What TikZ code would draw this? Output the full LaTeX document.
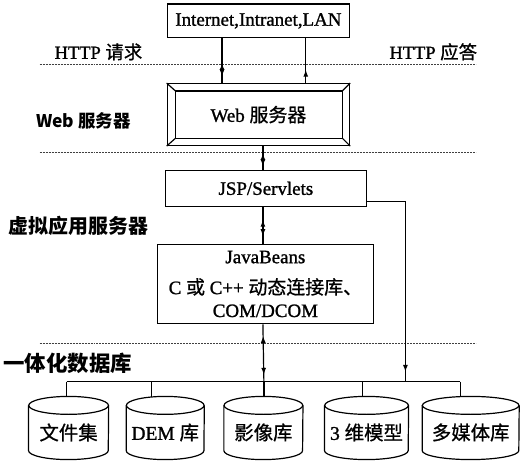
\documentclass[tikz,border=0pt]{standalone}
\usepackage{fontspec}
\setmainfont{Liberation Serif}[FakeBold=1.2]
\newfontfamily\cjk{Noto Sans CJK SC}[FakeBold=0.8]
\newfontfamily\cjktier{Noto Sans CJK SC}
\usetikzlibrary{arrows.meta,decorations.markings,calc}
\newcommand\cn[1]{{\cjk #1}}
% database cylinder: name, x centre, half width, label
\newcommand\dbcyl[4]{%
  \node[dbtext,minimum width=2*#3,minimum height=54] (#1) at (#2,434) {#4};
  \draw[link] (#1.north west) -- ($(#1.south west)+(0,-9)$)
    arc[start angle=180,end angle=360,x radius=#3pt,y radius=9pt]
    -- (#1.north east);
  \draw[link] (#1.north) ellipse[x radius=#3pt,y radius=9pt];
}
\begin{document}
\begin{tikzpicture}[x=1pt,y=-1pt,
  box/.style={draw,line width=1.2pt,inner sep=0pt,font=\fontsize{19}{22}\selectfont},
  link/.style={line width=1.2pt},
  tip/.tip={Latex[length=7pt,width=5pt]},
  headdown/.style={postaction={decorate,decoration={markings,
      mark=at position #1 with {\arrow{tip}}}}},
  headup/.style={postaction={decorate,decoration={markings,
      mark=at position #1 with {\arrowreversed{tip}}}}},
  layer/.style={draw=black!75,line width=1pt,dash pattern=on 2pt off 1pt},
  tier/.style={font=\fontsize{#1}{22}\selectfont\cjktier\bfseries},
  lbl/.style={font=\fontsize{18.5}{22}\selectfont},
  dbtext/.style={inner sep=0pt,font=\fontsize{19.5}{22}\selectfont},
]
\fill[white] (0,0) rectangle (522,464);

% vertical axes of the connectors
\coordinate (lx) at (221,0);
\coordinate (rx) at (305,0);
\coordinate (mx) at (262,0);
\coordinate (jx) at (405,0);

% layer separators
\draw[layer] (38,65) -- (476,65);
\draw[layer] (38,153) -- (476,153);
\draw[layer] (38,345) -- (476,345);

% layer captions
\node[lbl] (req) at (97,52) {HTTP \cn{请求}};
\node[lbl] (resp) at (433,52) {HTTP \cn{应答}};
\node[tier=17.5] (tweb) at (82,121) {Web 服务器};
\node[tier=20] (tapp) at (77,227) {虚拟应用服务器};
\node[tier=21.5] (tdb) at (66,365) {一体化数据库};

% network
\node[box,minimum width=183,minimum height=34] (net) at (257.5,21) {Internet,Intranet,LAN};

% web server with bevelled frame
\node[box,minimum width=183,minimum height=62] (web) at (257.5,115) {Web \cn{服务器}};
\draw[link] ($(web.north west)+(9,8)$) rectangle ($(web.south east)+(-8,-8)$);
\draw[link] (web.north west) -- ($(web.north west)+(9,8)$);
\draw[link] (web.north east) -- ($(web.north east)+(-8,8)$);
\draw[link] (web.south west) -- ($(web.south west)+(9,-8)$);
\draw[link] (web.south east) -- ($(web.south east)+(-8,-8)$);

% application tier
\node[box,minimum width=202,minimum height=36] (jsp) at (265,189) {JSP/Servlets};
\node[box,minimum width=217,minimum height=80,align=center] (jb) at (264.5,285)
  {JavaBeans\\[9pt] C \cn{或} C++ \cn{动态连接库、}\\[1pt] COM/DCOM};

% databases
\dbcyl{db1}{67}{40}{\cn{文件集}}
\dbcyl{db2}{164}{39}{DEM \cn{库}}
\dbcyl{db3}{262.5}{39.5}{\cn{影像库}}
\dbcyl{db4}{366}{42}{3 \cn{维模型}}
\dbcyl{db5}{470.5}{48.5}{\cn{多媒体库}}

% data bus
\coordinate (b1) at (65,383);
\coordinate (b2) at (150,383);
\coordinate (b3) at (263,383);
\coordinate (b4) at (362,383);
\coordinate (b5) at (460,383);
\coordinate (bj) at (405,383);
\draw[link] (b1) -- (b5);
\draw[link,shorten >=8.8pt] (b1) -- (b1 |- db1.north);
\draw[link,shorten >=8.3pt] (b2) -- (b2 |- db2.north);
\draw[link,shorten >=8.8pt] (b3) -- (b3 |- db3.north);
\draw[link,shorten >=8.8pt] (b4) -- (b4 |- db4.north);
\draw[link,shorten >=8.5pt] (b5) -- (b5 |- db5.north);

% request / response flow
\draw[link,headup=0.55,headdown=0.85] (net.south -| lx) -- (web.north -| lx);
\draw[link,headdown=0.3] (web.north -| rx) -- (net.south -| rx);
\draw[link,headup=0.3,headdown=0.85] (web.south -| mx) -- (jsp.north -| mx);
\draw[link,headup=0.35,headdown=0.8] (jsp.south -| mx) -- (jb.north -| mx);
\draw[link,headup=0.2,headdown=0.88] (jb.south -| mx) -- (b3);
\draw[link,headdown=209pt] ($(jsp.south east)+(0,-5)$) -| (bj);
\end{tikzpicture}
\end{document}
